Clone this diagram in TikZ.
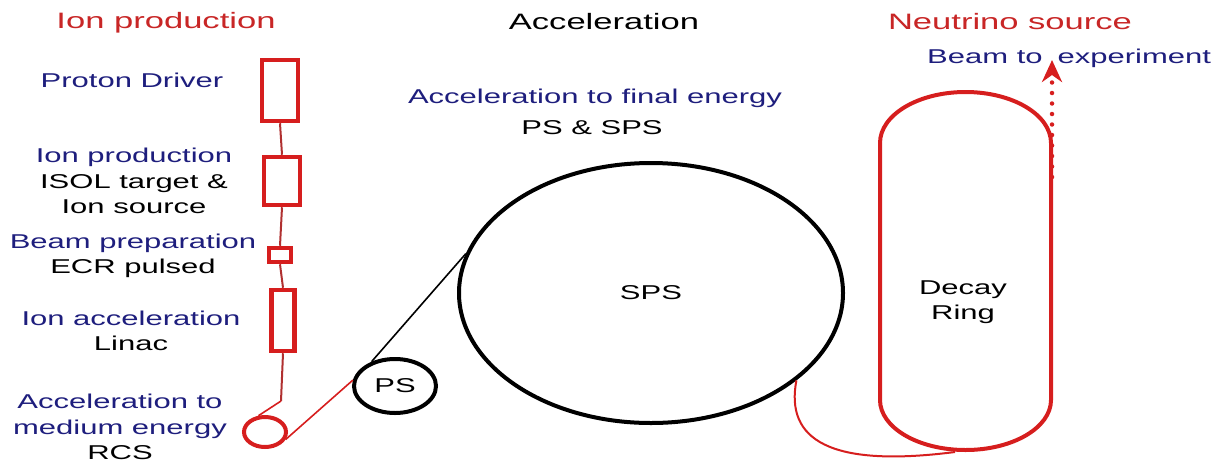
\documentclass[tikz,border=0pt]{standalone}
\usepackage{fontspec}
\setmainfont{Liberation Sans}[FakeStretch=1.55]
\usetikzlibrary{shapes.geometric,arrows.meta}
\definecolor{ringred}{RGB}{214,30,30}
\definecolor{titlered}{RGB}{200,38,38}
\definecolor{linkred}{RGB}{176,48,48}
\definecolor{labelblue}{RGB}{30,30,125}

\begin{document}
\begin{tikzpicture}[x=1pt,y=-1pt,
	txt/.style={inner sep=0pt,align=center,font=\fontsize{20}{25.5}\selectfont},
	title/.style={inner sep=0pt,font=\fontsize{22.3}{26}\selectfont},
	stage/.style={draw=ringred,line width=4.5pt,fill=white,inner sep=0pt},
	ring/.style={draw,ellipse,line width=4pt,inner sep=0pt,font=\fontsize{20}{24}\selectfont}]
				\useasboundingbox (0,0) rectangle (1225,464);
				
				% titles
				\node[title,text=titlered] (tion) at (166,23) {Ion production};
				\node[title] (tacc) at (604,22) {Acceleration};
				\node[title,text=titlered] (tnu) at (1010,22) {Neutrino source};
				
				% ion production chain
				\node[stage,minimum width=36pt,minimum height=61pt] (pd) at (280,90.5) {};
				\node[stage,minimum width=36pt,minimum height=48pt] (isol) at (282,181) {};
				\node[stage,minimum width=22pt,minimum height=14pt] (ecr) at (280,255) {};
				\node[stage,minimum width=23pt,minimum height=61pt] (linac) at (283,320.5) {};
				\node[ring,draw=ringred,minimum width=42pt,minimum height=30pt] (rcs) at (265,432) {};
				\coordinate (bend) at (281,401);
				
				\begin{scope}[draw=linkred,line width=2pt]
				\draw (pd.south) -- (isol.north);
				\draw (isol.south) -- (ecr.north);
				\draw (ecr.south) -- (linac.north);
				\draw (linac.south) -- (bend);
				\end{scope}
				\draw[ringred,line width=1.6pt] (bend) -- (rcs.112);
				
				% labels left
				\node[txt,text=labelblue] (lpd) at (132,80) {Proton Driver};
				\node[txt] (lisol) at (134,181) {\textcolor{labelblue}{Ion production}\\ISOL target \&\\Ion source};
				\node[txt] (lecr) at (133,256) {\textcolor{labelblue}{Beam preparation}\\ECR pulsed};
				\node[txt] (llinac) at (131,331) {\textcolor{labelblue}{Ion acceleration}\\Linac};
				\node[txt] (lrcs) at (120,427) {\textcolor{labelblue}{Acceleration to}\\\textcolor{labelblue}{medium energy}\\RCS};
				
				% acceleration
				\node[txt,text=labelblue] (lfinal) at (595,98) {Acceleration to final energy};
				\node[txt] (lpsps) at (592,128) {PS \& SPS};
				\node[ring,minimum width=82pt,minimum height=54pt] (ps) at (395,386) {PS};
				\node[ring,minimum width=384pt,minimum height=260pt] (sps) at (651,293) {SPS};
				\draw[ringred,line width=1.6pt] (rcs.-20) -- (ps.172);
				\draw[line width=1.6pt] (ps.134) -- (sps.168);
				
				% decay ring
				\draw[ringred,line width=4pt] (880,143) -- (880,400)
					arc[start angle=180,end angle=0,x radius=85.5,y radius=50] -- (1051,143)
					arc[start angle=0,end angle=-180,x radius=85.5,y radius=51] -- cycle;
				\node[txt] (ldecay) at (963,302) {Decay\\Ring};
				\draw[ringred,line width=2pt] (sps.-31) .. controls (785,440) and (830,468) .. (955,452);
				
				% beam
				\coordinate (bstart) at (1052,177);
				\coordinate (btip) at (1052,60);
				\draw[ringred,line width=4.5pt,line cap=round,dash pattern=on 0pt off 10.5pt,
					-{Stealth[length=22pt,width=20pt,inset=7pt]}] (bstart) -- (btip);
				\node[txt,text=labelblue,anchor=west] (lbeam) at (927,58) {Beam to\hspace{15pt}experiment};
				
			\end{tikzpicture}
\end{document}
